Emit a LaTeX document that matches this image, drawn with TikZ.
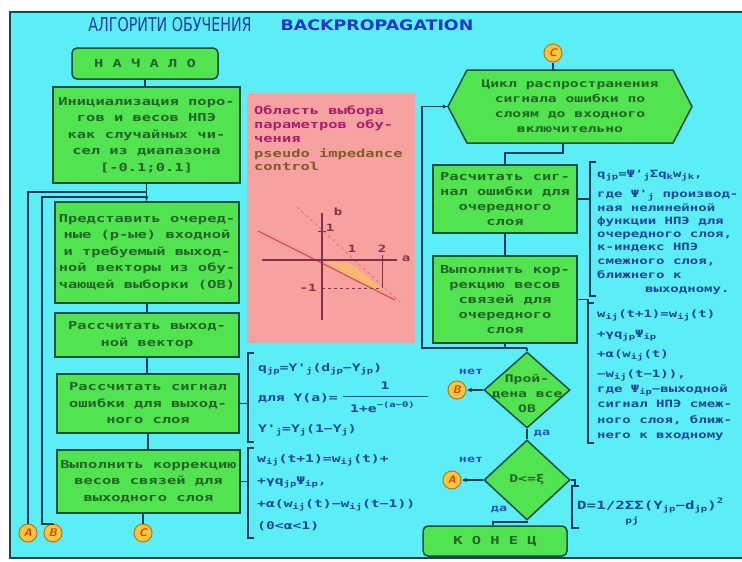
\documentclass[tikz,border=0pt]{standalone}
\usepackage{fontspec}
\usetikzlibrary{shapes.geometric,arrows.meta}
\setmainfont{DejaVu Sans}
\newfontfamily\boxfont[FakeStretch=1.4]{DejaVu Sans Mono}
\newfontfamily\titlefontA[FakeStretch=0.75]{DejaVu Sans}
\newfontfamily\titlefontB[FakeStretch=1.2]{DejaVu Sans}
\newcommand\sbs[1]{\raisebox{-0.35ex}{\fontsize{7.5}{8}\selectfont #1}}
\newcommand\sps[1]{\raisebox{0.9ex}{\fontsize{7.5}{8}\selectfont #1}}
\definecolor{bgcyan}{RGB}{92,238,246}
\definecolor{boxgreen}{RGB}{82,228,80}
\definecolor{boxedge}{RGB}{18,78,72}
\definecolor{txtgreen}{RGB}{34,100,40}
\definecolor{linec}{RGB}{16,60,90}
\definecolor{navytitle}{RGB}{40,60,160}
\definecolor{titleblue}{RGB}{34,56,200}
\definecolor{pinkbg}{RGB}{246,162,160}
\definecolor{magtxt}{RGB}{168,30,110}
\definecolor{browntxt}{RGB}{130,90,40}
\definecolor{formc}{RGB}{30,70,150}
\definecolor{yel}{RGB}{248,200,60}
\definecolor{yeledge}{RGB}{190,110,30}
\definecolor{redlet}{RGB}{220,60,20}
\definecolor{axisc}{RGB}{130,50,70}
\definecolor{redline}{RGB}{225,60,70}
\definecolor{orangefill}{RGB}{250,190,110}
\definecolor{labblue}{RGB}{40,80,190}
\begin{document}
\begin{tikzpicture}[x=1pt,y=-1pt,
  box/.style={draw=boxedge, line width=1.5pt, fill=boxgreen, text=txtgreen, align=center, inner sep=0pt,
    font=\boxfont\bfseries\fontsize{11}{16.5}\selectfont},
  rbox/.style={box, font=\boxfont\bfseries\fontsize{11}{15}\selectfont},
  dia/.style={diamond, draw=boxedge, line width=1.5pt, fill=boxgreen, inner sep=0pt},
  diatext/.style={text=txtgreen, align=center, inner sep=0pt, font=\boxfont\bfseries\fontsize{10.5}{15}\selectfont},
  conn/.style={circle, draw=yeledge, line width=1pt, fill=yel, minimum size=18pt, inner sep=0pt,
    font=\sffamily\bfseries\itshape\fontsize{11}{11}\selectfont, text=redlet},
  ln/.style={draw=linec, line width=1.2pt},
  arr/.style={ln, -{Latex[length=5pt,width=4.5pt]}},
  form/.style={anchor=west, inner sep=0pt, text=formc, text height=7pt, text depth=2pt,
    font=\boxfont\bfseries\fontsize{10.5}{14}\selectfont},
  rform/.style={form, font=\boxfont\bfseries\fontsize{10}{14}\selectfont},
  lab/.style={inner sep=0pt, text=labblue, font=\boxfont\bfseries\fontsize{9.5}{10}\selectfont},
  gl/.style={inner sep=0pt, text=axisc, font=\boxfont\bfseries\fontsize{10}{10}\selectfont}]
\useasboundingbox (0,0) rectangle (742,562);
\fill[white] (0,0) rectangle (742,562);
% panel
\fill[bgcyan] (10,12) rectangle (752,558);
\draw[boxedge, line width=2pt] (752,12) -- (10,12) -- (10,558) -- (752,558);
% title
\node[inner sep=0pt, text=navytitle, font=\titlefontA\fontsize{19}{19}\selectfont] (t1) at (170,25) {АЛГОРИТИ ОБУЧЕНИЯ};
\node[inner sep=0pt, text=titleblue, font=\titlefontB\bfseries\fontsize{14.5}{14.5}\selectfont] (t2) at (377,25) {BACKPROPAGATION};
% left column
\node[box, rounded corners=5pt, minimum width=146, minimum height=31] (start) at (145,63.5) {Н А Ч А Л О};
\node[box, minimum width=187, minimum height=96] (init) at (146.5,135) {Инициализация поро-\\гов и весов НПЭ\\как случайных чи-\\сел из диапазона\\{[-0.1;0.1]}};
\node[box, minimum width=184, minimum height=101] (vec) at (147,252.5) {Представить очеред-\\ные (p-ые) входной\\и требуемый выход-\\ной векторы из обу-\\чающей выборки (ОВ)};
\node[box, minimum width=184, minimum height=44] (out) at (147,335) {Рассчитать выход-\\ной вектор};
\node[box, minimum width=182, minimum height=59] (err) at (148,403.5) {Рассчитать сигнал\\ошибки для выход-\\ного слоя};
\node[box, minimum width=183, minimum height=63] (corr) at (148.5,481.5) {Выполнить коррекцию\\весов связей для\\выходного слоя};
\node[conn] (A) at (28,533) {A};
\node[conn] (B) at (53,533) {B};
\node[conn] (C) at (143,533) {C};
\draw[ln] (start.south) -- (start.south |- init.north);
\draw[arr] (init.south) -- (init.south |- vec.north);
\draw[ln] (A.north) -- (28,192) -- (init.south |- 0,192);
\draw[ln] (B.north) -- (53,524) -- (42,524) -- (42,197) -- (init.south |- 0,197);
\draw[ln] (vec.south) -- (vec.south |- out.north);
\draw[ln] (out.south) -- (out.south |- err.north);
\draw[ln] (err.south) -- (err.south |- corr.north);
\draw[ln] (C.north) -- (C.north |- corr.south);
% pink panel
\fill[pinkbg] (247,93) rectangle (415,343);
\node[anchor=north west, inner sep=0pt, align=left, text=magtxt, font=\boxfont\bfseries\fontsize{11}{14}\selectfont] (p1) at (254,106) {Область выбора\\параметров обу-\\чения};
\node[anchor=north west, inner sep=0pt, align=left, text=browntxt, font=\boxfont\bfseries\fontsize{11}{13}\selectfont] (p2) at (254,148) {pseudo impedance\\control};
% graph
\fill[orangefill, opacity=0.85] (325,262) -- (350,263) -- (383,289) -- (372,290) -- cycle;
\draw[redline, line width=1pt] (258,231) -- (395,300);
\draw[redline!70, line width=1pt, dashed] (297,207) -- (400,302);
\draw[axisc, line width=1.2pt] (322,213) -- (322,320);
\draw[axisc, line width=1.2pt] (262,260) -- (397,260);
\draw[axisc, line width=0.8pt, dashed] (322,288) -- (382,288);
\draw[axisc, line width=0.8pt] (382,255) -- (382,288);
\draw[axisc, line width=0.8pt] (318,231) -- (326,231);
\node[gl] (gb) at (338,212) {b};
\node[gl] (g1) at (330,228) {1};
\node[gl] (ga) at (406,259) {a};
\node[gl] (g2) at (352,249) {1};
\node[gl] (g3) at (382,249) {2};
\node[gl] (g4) at (308,288) {-1};
% formulas left
\draw[ln] (err.east) -- (248,403.5);
\draw[ln] (254,353) -- (248,353) -- (248,442) -- (254,442);
\node[form] (fa1) at (258,369) {q\sbs{jp}=Y'\sbs{j}(d\sbs{jp}−Y\sbs{jp})};
\node[form] (fa2) at (258,399) {для Y(a)=};
\node[form, anchor=center] (fa3) at (385,387) {1};
\draw[formc, line width=0.8pt] (343,396) -- (428,396);
\node[form] (fa4) at (350,410) {1+e\sps{−(a−θ)}};
\node[form] (fa5) at (258,430) {Y'\sbs{j}=Y\sbs{j}(1−Y\sbs{j})};
\draw[ln] (corr.east) -- (248,481.5);
\draw[ln] (254,448) -- (248,448) -- (248,538) -- (254,538);
\node[form] (fb1) at (257,460) {w\sbs{ij}(t+1)=w\sbs{ij}(t)+};
\node[form] (fb2) at (257,482) {+γq\sbs{jp}Ψ\sbs{ip},};
\node[form] (fb3) at (257,505) {+α(w\sbs{ij}(t)−w\sbs{ij}(t−1))};
\node[form] (fb4) at (257,527) {(0<α<1)};
% right column
\node[conn] (Ctop) at (553,53) {C};
\fill[boxgreen] (467,70) -- (673,70) -- (692,106.5) -- (673,143) -- (467,143) -- (448,106.5) -- cycle;
\draw[boxedge, line width=1.5pt] (467,70) -- (673,70) -- (692,106.5) -- (673,143) -- (467,143) -- (448,106.5) -- cycle;
\node[text=txtgreen, align=center, inner sep=0pt, minimum width=244, minimum height=73,
  font=\boxfont\bfseries\fontsize{10.5}{15}\selectfont] (hex) at (570,106.5) {Цикл распространения\\сигнала ошибки по\\слоям до входного\\включительно};
\node[rbox, minimum width=144, minimum height=68] (R1) at (505,199) {Расчитать сиг-\\нал ошибки для\\очередного\\слоя};
\node[rbox, minimum width=144, minimum height=87] (R2) at (505,299.5) {Выполнить кор-\\рекцию весов\\связей для\\очередного\\слоя};
\node[dia, minimum width=86, minimum height=76] (d1) at (527,390) {};
\node[diatext] (d1t) at (527,393) {Прой-\\дена все\\ОВ};
\node[dia, minimum width=86, minimum height=80] (d2) at (527,480) {};
\node[diatext] (d2t) at (527,480) {D<=ξ};
\node[box, rounded corners=5pt, minimum width=144, minimum height=30] (end) at (495,541) {К О Н Е Ц};
\node[conn] (Br) at (457,390) {B};
\node[conn] (Ar) at (452,480) {A};
\draw[ln] (Ctop.south) -- (Ctop.south |- hex.north);
\draw[ln] (563,143) -- (563,153) -- (505,153) -- (R1.north);
\draw[ln] (R1.south) -- (R2.north);
\draw[ln] (R2.south) -- (505,348);
\draw[ln] (527,348) -- (d1.north);
\draw[arr] (527,348) -- (422,348) -- (422,106.5) -- (hex.west);
\draw[ln] (d1.south) -- (d2.north);
\draw[arr] (d1.west) -- (Br.east);
\draw[arr] (d2.west) -- (Ar.east);
\draw[ln] (d2.south) -- (527,522) -- (493,522) -- (end.north -| 493,0);
\node[lab] (n1) at (471,372) {нет};
\node[lab] (y1) at (542,433) {да};
\node[lab] (n2) at (471,460) {нет};
\node[lab] (y2) at (499,509) {да};
% right formulas
\draw[ln] (R1.east) -- (590,199);
\draw[ln] (596,162) -- (590,162) -- (590,296) -- (596,296);
\node[rform] (r1a) at (597,175) {q\sbs{jp}=Ψ'\sbs{j}Σq\sbs{k}w\sbs{jk},};
\node[rform] (r1b) at (597,195) {где Ψ'\sbs{j} производ-};
\node[rform] (r1c) at (597,209) {ная нелинейной};
\node[rform] (r1d) at (597,222) {функции НПЭ для};
\node[rform] (r1e) at (597,235) {очередного слоя,};
\node[rform] (r1f) at (597,248) {к-индекс НПЭ};
\node[rform] (r1g) at (597,262) {смежного слоя,};
\node[rform] (r1h) at (597,276) {ближнего к};
\node[rform] (r1i) at (645,290) {выходному.};
\draw[ln] (R2.east) -- (588,299.5) -- (588,303);
\draw[ln] (594,303) -- (588,303) -- (588,443) -- (594,443);
\node[rform] (r2a) at (597,315) {w\sbs{ij}(t+1)=w\sbs{ij}(t)};
\node[rform] (r2b) at (597,335) {+γq\sbs{jp}Ψ\sbs{ip}};
\node[rform] (r2c) at (597,355) {+α(w\sbs{ij}(t)};
\node[rform] (r2d) at (597,375) {−w\sbs{ij}(t−1)),};
\node[rform] (r2e) at (597,390) {где Ψ\sbs{ip}−выходной};
\node[rform] (r2f) at (597,405) {сигнал НПЭ смеж-};
\node[rform] (r2g) at (597,421) {ного слоя, ближ-};
\node[rform] (r2h) at (597,436) {него к входному};
\draw[ln] (d2.east) -- (575,480) -- (575,486);
\draw[ln] (579,486) -- (572,486) -- (572,528) -- (579,528);
\node[rform, font=\boxfont\bfseries\fontsize{11.3}{14}\selectfont] (fd) at (577,507) {D=1/2ΣΣ(Y\sbs{jp}−d\sbs{jp})\sps{2}};
\node[rform, anchor=center, font=\boxfont\bfseries\fontsize{8}{8}\selectfont] (fdpj) at (632,521) {pj};
\end{tikzpicture}
\end{document}
